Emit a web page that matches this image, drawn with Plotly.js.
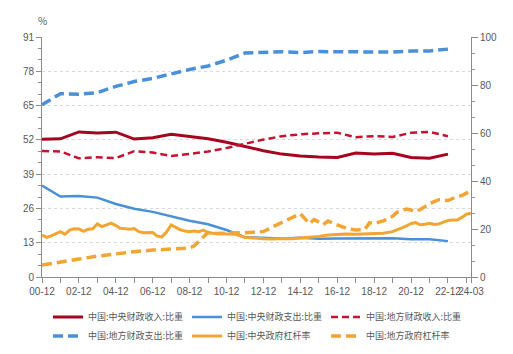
<!DOCTYPE html>
<html><head><meta charset="utf-8">
<script src="https://cdn.plot.ly/plotly-3.0.1.min.js"></script>
<style>html,body{margin:0;padding:0;background:#fff}#c{width:513px;height:354px}</style>
</head><body><div id="c"></div>
<script>
const fiscalYears = ['2000-12','2001-12','2002-12','2003-12','2004-12','2005-12','2006-12','2007-12','2008-12','2009-12','2010-12','2011-12','2012-12','2013-12','2014-12','2015-12','2016-12','2017-12','2018-12','2019-12','2020-12','2021-12','2022-12'];
const centralRevShare = [52.2,52.4,55.0,54.6,54.9,52.3,52.8,54.1,53.3,52.4,51.1,49.4,47.9,46.6,45.9,45.5,45.3,47.0,46.6,46.9,45.3,45.0,46.6];
const centralExpShare = [34.7,30.5,30.7,30.1,27.7,25.9,24.7,23.0,21.3,20.0,17.8,15.1,14.9,14.6,14.9,14.5,14.6,14.7,14.8,14.7,14.3,14.3,13.6];
const localRevShare = [47.8,47.6,45.0,45.4,45.1,47.7,47.2,45.9,46.7,47.6,48.9,50.6,52.1,53.4,54.1,54.5,54.7,53.0,53.4,53.1,54.7,55.0,53.4];
const localExpShare = [65.3,69.5,69.3,69.9,72.3,74.1,75.3,77.0,78.7,80.0,82.2,84.9,85.1,85.4,85.1,85.5,85.4,85.3,85.2,85.3,85.7,85.7,86.4];

const centralLevDates = ['2000-12','2001-03','2001-06','2001-09','2001-12','2002-03','2002-06','2002-09','2002-12','2003-03','2003-06','2003-09','2003-12','2004-03','2004-06','2004-09','2004-12','2005-03','2005-06','2005-09','2005-12','2006-03','2006-06','2006-09','2006-12','2007-03','2007-06','2007-09','2007-12','2008-03','2008-06','2008-09','2008-12','2009-03','2009-06','2009-09','2009-12','2010-06','2010-12','2011-06','2011-12','2012-06','2012-12','2013-06','2013-12','2014-06','2014-12','2015-06','2015-12','2016-06','2016-12','2017-06','2017-12','2018-06','2018-12','2019-06','2019-12','2020-03','2020-06','2020-09','2020-12','2021-03','2021-06','2021-09','2021-12','2022-03','2022-06','2022-09','2022-12','2023-03','2023-06','2023-09','2023-12','2024-03'];
const centralLev = [15.9,15.0,15.6,16.3,17.2,16.2,17.8,18.3,18.2,17.3,18.1,18.3,20.1,19.1,19.8,20.4,19.5,18.5,18.3,18.1,18.4,17.2,16.8,16.8,16.9,15.5,15.2,17.0,19.7,18.8,17.9,17.4,17.2,17.4,17.2,17.8,16.8,16.4,16.4,16.2,15.0,14.7,14.5,14.4,14.6,14.5,14.7,15.1,15.4,15.9,16.1,16.3,16.2,16.4,16.4,16.6,17.2,17.8,18.6,19.4,20.3,20.6,19.8,20.0,20.4,19.9,20.1,20.8,21.4,21.6,21.6,22.6,23.8,24.2];

const localLevDates = ['2000-12','2001-12','2002-12','2003-12','2004-12','2005-12','2006-12','2007-12','2008-12','2009-03','2009-06','2009-09','2009-12','2010-06','2010-12','2011-06','2011-12','2012-06','2012-12','2013-06','2013-12','2014-06','2014-12','2015-06','2015-09','2016-03','2016-06','2016-12','2017-06','2017-12','2018-06','2018-09','2018-12','2019-03','2019-06','2019-09','2019-12','2020-03','2020-09','2020-12','2021-03','2021-06','2021-09','2021-12','2022-06','2022-12','2023-06','2023-09','2023-12','2024-03'];
const localLev = [4.5,5.8,6.8,7.9,8.8,9.6,10.2,10.6,11.0,11.8,13.4,15.4,16.9,16.5,16.5,16.6,16.8,17.0,17.2,19.0,20.6,22.2,24.0,20.2,21.8,19.9,21.2,19.8,18.4,17.8,18.0,20.6,20.2,20.8,21.3,22.2,23.0,24.6,25.8,25.4,24.8,25.6,26.7,27.8,29.3,29.0,30.5,30.9,31.8,32.7];

const names = ['中国:中央财政收入:比重','中国:中央财政支出:比重','中国:地方财政收入:比重','中国:地方财政支出:比重','中国:中央政府杠杆率','中国:地方政府杠杆率'];
const xTickVals = ['2000-12','2002-12','2004-12','2006-12','2008-12','2010-12','2012-12','2014-12','2016-12','2018-12','2020-12','2022-12','2024-03'];
const xTickText = ['00-12','02-12','04-12','06-12','08-12','10-12','12-12','14-12','16-12','18-12','20-12','22-12','24-03'];

const RED='#a6051f', RED2='#c41230', BLUE='#4a8fd9', ORANGE='#f2a532';
const traces = [
  {x:fiscalYears,y:centralRevShare,name:names[0],mode:'lines',line:{color:RED,width:3}},
  {x:fiscalYears,y:centralExpShare,name:names[1],mode:'lines',line:{color:BLUE,width:2.5}},
  {x:fiscalYears,y:localRevShare,name:names[2],mode:'lines',line:{color:RED2,width:2.5,dash:'7px,4px'}},
  {x:fiscalYears,y:localExpShare,name:names[3],mode:'lines',line:{color:BLUE,width:3.5,dash:'10px,5px'}},
  {x:centralLevDates,y:centralLev,name:names[4],mode:'lines',line:{color:ORANGE,width:3}},
  {x:localLevDates,y:localLev,name:names[5],mode:'lines',line:{color:ORANGE,width:3.5,dash:'10px,5px'}},
  {x:[],y:[],yaxis:'y2',showlegend:false,hoverinfo:'skip',mode:'lines'}
];
const AX='#8c8c8c', TXT='#595959';
const tickFont={family:'"Liberation Sans Narrow","Liberation Sans",sans-serif',size:10,color:TXT};
const layout = {
  width:513,height:354,
  margin:{l:42,r:42,t:37,b:77},
  paper_bgcolor:'#fff',plot_bgcolor:'#fff',
  showlegend:true,
  font:{family:'"Noto Sans CJK SC",sans-serif',color:TXT},
  xaxis:{type:'date',range:['2000-12','2024-03'],tickmode:'array',tickvals:xTickVals,ticktext:xTickText,tickangle:0,
    ticks:'outside',ticklen:5,tickcolor:AX,showline:true,linecolor:AX,linewidth:1,showgrid:false,zeroline:false,
    tickfont:tickFont,automargin:false,
    minor:{dtick:'M12',tick0:'2000-12-01',ticks:'outside',ticklen:5,tickcolor:AX,showgrid:false}},
  yaxis:{range:[0,91],dtick:13,tick0:0,ticks:'outside',ticklen:5,tickcolor:AX,showline:true,linecolor:AX,linewidth:1,
    showgrid:true,gridcolor:'#d9d9d9',griddash:'dot',gridwidth:1,zeroline:false,tickfont:tickFont,automargin:false,
    minor:{dtick:13/3,tick0:0,ticks:'outside',ticklen:3,tickcolor:AX,showgrid:false}},
  yaxis2:{overlaying:'y',side:'right',range:[0,100],dtick:20,tick0:0,ticks:'outside',ticklen:6,tickcolor:AX,
    showline:true,linecolor:AX,linewidth:1,showgrid:false,zeroline:false,tickfont:tickFont,automargin:false,
    minor:{dtick:20/3,tick0:0,ticks:'outside',ticklen:3,tickcolor:AX,showgrid:false}},
  legend:{orientation:'h',x:0.5,xanchor:'center',xref:'paper',yref:'container',y:0.01,yanchor:'bottom',
    font:{size:9,color:TXT,family:'"Noto Sans CJK SC",sans-serif'},
    tracegroupgap:0,itemwidth:30,entrywidth:94,entrywidthmode:'pixels'},
  annotations:[{text:'%',xref:'paper',yref:'paper',x:0,y:1.067,xanchor:'center',yanchor:'middle',showarrow:false,
    font:{size:10,color:TXT,family:'"Noto Sans CJK SC",sans-serif'}}]
};
Plotly.newPlot('c',traces,layout,{displayModeBar:false,staticPlot:true});
</script>
</body></html>
